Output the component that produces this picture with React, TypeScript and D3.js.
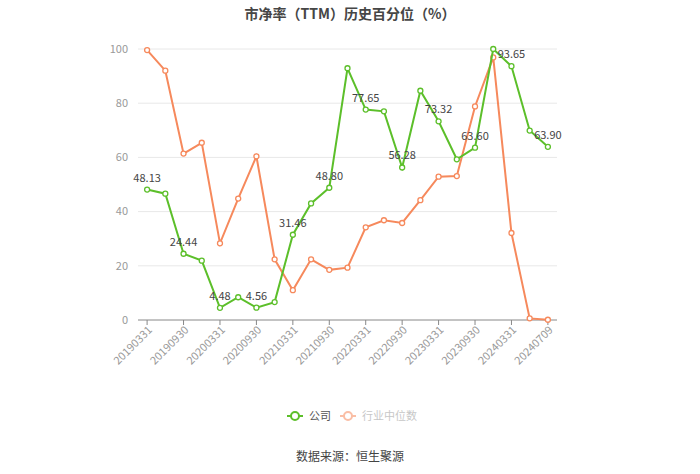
import { useEffect, useRef } from "react";
import * as d3 from "d3";

const dates = [
  "20190331", "20190630", "20190930", "20191231",
  "20200331", "20200630", "20200930", "20201231",
  "20210331", "20210630", "20210930", "20211231",
  "20220331", "20220630", "20220930", "20221231",
  "20230331", "20230630", "20230930", "20231231",
  "20240331", "20240630", "20240709",
];

const company = [
  48.13, 46.6, 24.44, 21.9, 4.48, 8.4, 4.56, 6.6, 31.46, 43.0, 48.8, 92.9,
  77.65, 77.0, 56.28, 84.6, 73.32, 59.3, 63.6, 100, 93.65, 69.9, 63.9,
];

const industry = [
  99.6, 92.0, 61.4, 65.4, 28.3, 44.8, 60.4, 22.4, 11.0, 22.4, 18.5, 19.3,
  34.2, 36.8, 35.8, 44.2, 52.9, 53.1, 78.8, 96.9, 32.1, 0.6, 0.1,
];

const yTicks = [0, 20, 40, 60, 80, 100];

const GREEN = "#5cbf2a";
const ORANGE = "#f6895c";
const FONT = "'Noto Sans CJK SC', 'Noto Sans', sans-serif";

function App() {
  const svgRef = useRef<SVGSVGElement | null>(null);

  useEffect(() => {
    const width = 700;
    const height = 474;
    const margin = { left: 138, right: 143, top: 49, bottom: 154 };

    const svg = d3.select(svgRef.current);
    svg.selectAll("*").remove();

    const x = d3.scaleBand<string>()
      .domain(dates)
      .range([margin.left, width - margin.right]);
    const cx = (d: string) => (x(d) as number) + x.bandwidth() / 2;

    const y = d3.scaleLinear()
      .domain([0, 100])
      .range([height - margin.bottom, margin.top]);

    // title
    svg.append("text")
      .attr("x", 350)
      .attr("y", 19)
      .attr("text-anchor", "middle")
      .style("font-family", FONT)
      .style("font-size", "14px")
      .style("font-weight", "bold")
      .style("fill", "#464646")
      .text("市净率（TTM）历史百分位（%）");

    // grid + y labels
    const grid = svg.append("g");
    yTicks.forEach((t) => {
      if (t > 0) {
        grid.append("line")
          .attr("x1", margin.left)
          .attr("x2", width - margin.right)
          .attr("y1", y(t))
          .attr("y2", y(t))
          .attr("stroke", "#e8e8e8");
      }
      grid.append("text")
        .attr("x", 128)
        .attr("y", y(t))
        .attr("dy", "0.35em")
        .attr("text-anchor", "end")
        .style("font-family", FONT)
        .style("font-size", "11px")
        .style("fill", "#999")
        .text(t);
    });

    // x axis
    const axisY = y(0);
    svg.append("line")
      .attr("x1", margin.left)
      .attr("x2", width - margin.right)
      .attr("y1", axisY)
      .attr("y2", axisY)
      .attr("stroke", "#888");

    const labelled = dates.filter((_, i) => i % 2 === 0);
    const xt = svg.append("g");
    labelled.forEach((d) => {
      xt.append("line")
        .attr("x1", cx(d))
        .attr("x2", cx(d))
        .attr("y1", axisY)
        .attr("y2", axisY + 5)
        .attr("stroke", "#888");
      xt.append("text")
        .attr("transform", `translate(${cx(d) + 3},${axisY + 8}) rotate(-45)`)
        .attr("text-anchor", "end")
        .attr("dy", "0.35em")
        .style("font-family", FONT)
        .style("font-size", "11px")
        .style("fill", "#999")
        .text(d);
    });

    const line = d3.line<number>()
      .x((_, i) => cx(dates[i]))
      .y((v) => y(v));

    const drawSeries = (vals: number[], color: string) => {
      svg.append("path")
        .datum(vals)
        .attr("d", line)
        .attr("fill", "none")
        .attr("stroke", color)
        .attr("stroke-width", 2);
      svg.append("g")
        .selectAll("circle")
        .data(vals)
        .enter()
        .append("circle")
        .attr("cx", (_, i) => cx(dates[i]))
        .attr("cy", (v) => y(v))
        .attr("r", 2.5)
        .attr("fill", "#fff")
        .attr("stroke", color)
        .attr("stroke-width", 1.3);
    };

    drawSeries(industry, ORANGE);
    drawSeries(company, GREEN);

    // labels on company series
    svg.append("g")
      .selectAll("text")
      .data(company)
      .enter()
      .filter((_, i) => i % 2 === 0)
      .append("text")
      .attr("x", (_, i) => cx(dates[i * 2]))
      .attr("y", (v) => y(v) - 8)
      .attr("text-anchor", "middle")
      .style("font-family", FONT)
      .style("font-size", "11px")
      .style("fill", "#444")
      .text((v) => v.toFixed(2));

    // legend
    const legend = svg.append("g").attr("transform", "translate(287,416)");
    const items = [
      { name: "公司", color: GREEN, x: 0, op: 1 },
      { name: "行业中位数", color: ORANGE, x: 53, op: 0.55 },
    ];
    items.forEach((it) => {
      const g = legend.append("g").attr("transform", `translate(${it.x},0)`).style("opacity", it.op);
      g.append("line").attr("x1", 0).attr("x2", 16).attr("y1", 0).attr("y2", 0)
        .attr("stroke", it.color).attr("stroke-width", 2);
      g.append("circle").attr("cx", 8).attr("cy", 0).attr("r", 4)
        .attr("fill", "#fff").attr("stroke", it.color).attr("stroke-width", 2);
      g.append("text").attr("x", 22).attr("y", 0).attr("dy", "0.35em")
        .style("font-family", FONT).style("font-size", "11px")
        .style("fill", it.op < 1 ? "#999" : "#555")
        .text(it.name);
    });

    // source
    svg.append("text")
      .attr("x", 350)
      .attr("y", 461)
      .attr("text-anchor", "middle")
      .style("font-family", FONT)
      .style("font-size", "12px")
      .style("fill", "#444")
      .text("数据来源：恒生聚源");
  }, []);

  return (
    <div style={{ position: "absolute", left: 0, top: 0 }}>
      <svg ref={svgRef} width={700} height={474} style={{ display: "block", background: "#fff" }}></svg>
    </div>
  );
}

export default App;
